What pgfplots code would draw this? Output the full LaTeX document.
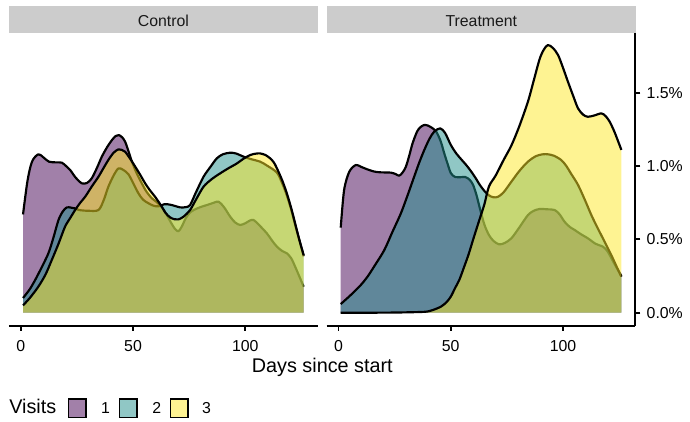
\documentclass[border=0pt]{standalone}
\usepackage{fontspec}
\setmainfont{Liberation Sans}
\usepackage{pgfplots}
\usepackage{pgfplotstable}
\pgfplotsset{compat=1.18}
\definecolor{c1}{HTML}{440154}
\definecolor{c2}{HTML}{21908C}
\definecolor{c3}{HTML}{FDE725}
\definecolor{stripgray}{HTML}{CCCCCC}

% Control
\pgfplotstableread{
x y
1 0.67
3 0.90
5 1.03
7.8 1.08
10 1.06
12.5 1.03
15.5 1.025
18.3 1.023
20.5 0.995
22 0.973
24.5 0.92
27.2 0.882
29.5 0.885
31.6 0.916
34 0.99
36.1 1.064
38.5 1.13
40.6 1.177
42.3 1.205
43.7 1.211
45.2 1.195
46.5 1.165
48 1.10
49.5 1.03
51.5 0.955
53.9 0.882
56 0.825
58.4 0.78
60.5 0.755
62.8 0.72
64.5 0.68
66.5 0.625
68.5 0.575
70.2 0.555
71.8 0.59
73.5 0.645
75.5 0.685
77 0.70
80 0.72
82.9 0.734
86 0.75
88.1 0.757
90.5 0.72
93.3 0.654
95.5 0.615
97.7 0.598
100 0.61
102 0.628
103.7 0.632
106 0.60
109.6 0.541
112 0.49
114.1 0.45
116.5 0.42
118.5 0.405
120.5 0.37
122.2 0.314
124 0.25
126 0.177
}\tCa
\pgfplotstableread{
x y
1 0.10
4 0.16
6.4 0.223
9 0.30
12.3 0.405
14.5 0.51
16.8 0.632
18.7 0.69
20.5 0.718
22.5 0.716
24.2 0.711
26 0.70
30 0.695
34.6 0.70
37 0.77
39 0.859
41.5 0.94
43.5 0.984
45.5 0.975
47.9 0.945
50 0.885
52.4 0.814
54.5 0.77
56.9 0.746
59 0.73
61.3 0.725
64 0.74
67 0.735
71 0.718
73.5 0.72
75.4 0.734
78 0.82
81.4 0.927
84.5 0.995
87.3 1.052
90 1.08
93.3 1.091
96 1.085
99.2 1.064
103 1.045
106.6 1.03
110 1.00
114.1 0.955
116.5 0.88
118.5 0.80
120.5 0.70
122.2 0.60
124 0.50
126 0.385
}\tCb
\pgfplotstableread{
x y
1 0.05
4 0.10
7.8 0.177
11 0.26
13.8 0.359
16.8 0.47
19.7 0.586
22 0.645
24.2 0.70
26.5 0.75
28.7 0.791
31.6 0.86
34.6 0.927
37 0.99
39 1.041
41.3 1.09
43.5 1.114
45 1.11
46.5 1.097
48.7 1.05
51 0.995
53.2 0.94
55.4 0.882
57.5 0.835
59.8 0.791
62.5 0.73
64.5 0.68
66.5 0.65
68.5 0.637
70.2 0.636
72.5 0.655
75.4 0.70
78 0.77
81.4 0.859
85 0.91
88.8 0.95
92.5 0.985
96.3 1.018
99.2 1.05
102.2 1.075
104.5 1.084
106.6 1.086
109 1.075
111.1 1.052
112.7 1.025
114.1 0.984
116.5 0.90
118.5 0.814
120.5 0.71
122.2 0.609
124 0.50
126 0.393
}\tCc
% Treatment
\pgfplotstableread{
x y
1 0.58
2.5 0.836
4.8 0.961
7.7 1.007
10 0.995
12.9 0.977
16 0.962
18.9 0.957
23.3 0.955
25.5 0.945
27 0.934
28.5 0.955
30 0.995
31.5 1.07
33 1.155
35 1.235
36.5 1.265
38.2 1.28
40 1.275
41.5 1.262
43.5 1.235
45.5 1.17
47.1 1.087
48.7 1.01
50.1 0.95
52 0.925
53.8 0.923
56.5 0.925
58.5 0.905
60 0.87
61.5 0.80
63 0.71
65 0.60
67 0.53
69 0.49
71.5 0.466
74 0.475
77 0.507
80.5 0.58
84.4 0.666
87 0.695
89.6 0.707
93 0.705
96.3 0.70
98.5 0.67
100.7 0.62
103 0.585
105.2 0.564
108 0.535
111.1 0.507
114.5 0.47
117.8 0.45
119.5 0.425
120.8 0.393
123 0.33
126 0.25
}\tTa
\pgfplotstableread{
x y
1 0.059
4 0.10
7 0.143
10 0.19
12.9 0.245
16.5 0.33
20.4 0.427
24 0.55
27.8 0.678
31 0.81
33.7 0.927
36 1.025
38.2 1.109
40.5 1.185
42.6 1.234
45.3 1.257
47.5 1.225
50 1.145
52.5 1.085
55 1.04
57 1.005
59 0.965
61 0.92
63 0.87
65 0.83
67 0.80
69 0.787
71 0.79
73.5 0.82
77 0.893
80.5 0.965
84.4 1.03
88 1.068
91 1.08
93.3 1.08
96 1.07
99.2 1.041
101.5 1.0
103.5 0.95
106.7 0.871
110 0.76
112.5 0.67
115 0.59
118 0.50
121.5 0.393
124 0.31
126 0.245
}\tTb
\pgfplotstableread{
x y
1 0
15 0
25 0.001
32 0.003
37 0.005
39.6 0.008
42 0.018
45.6 0.041
48 0.07
50 0.109
52 0.17
53.8 0.223
56 0.314
58 0.40
60 0.50
62.9 0.64
65 0.74
67 0.86
70 0.935
73.5 1.04
77 1.14
80.5 1.27
84.4 1.44
87 1.585
89.6 1.73
91.5 1.795
93.3 1.825
95.5 1.805
97.8 1.757
100 1.67
102.2 1.575
104.5 1.48
106.7 1.393
109 1.35
111.1 1.336
114 1.345
117.1 1.359
119 1.34
120.8 1.302
123 1.23
126 1.11
}\tTc

\pgfplotsset{
  panel/.style={
    scale only axis, width=171.5pt, height=162.6pt,
    xmin=-5.25, xmax=132.25, ymin=-0.0907, ymax=1.905,
    axis x line*=bottom,
    axis line style={-, line width=1.07pt, black},
    major tick style={line width=1.07pt, black},
    major tick length=2.75pt,
    tick align=outside,
    xtick={0,50,100}, xticklabels={0,50,100},
    ticklabel style={font=\fontsize{8.8}{10}\selectfont, text=black},
    xticklabel shift=2pt,
    clip=true,
  },
  dfill/.style={draw=none, fill=#1, fill opacity=0.5, smooth, forget plot},
  dline/.style={black, line width=1.2pt, line join=round, smooth, forget plot},
}

\begin{document}
\begin{tikzpicture}
\path[use as bounding box] (0pt,0pt) rectangle (383.33pt,234.44pt);

\begin{axis}[panel, at={(5pt,53.33pt)}, anchor=south west,
  axis y line=none, ytick=\empty,
  legend columns=-1,
  legend style={at={(0.001,-0.2812)}, anchor=west, draw=none, fill=none,
    inner sep=0pt, outer sep=0pt, /tikz/column sep=0pt,
    nodes={inner sep=0pt, outer sep=0pt, anchor=base west, font=\fontsize{8.8}{10}\selectfont, text=black}},
]
\addplot[dfill=c1] table {\tCa} \closedcycle;
\addplot[dline] table {\tCa};
\addplot[dfill=c2] table {\tCb} \closedcycle;
\addplot[dline] table {\tCb};
\addplot[dfill=c3] table {\tCc} \closedcycle;
\addplot[dline] table {\tCc};

\addlegendimage{legend image code/.code={\path[draw=none,fill=none] (0pt,0pt);}}
\addlegendentry{\fontsize{11}{13}\selectfont Visits}
\addlegendimage{legend image code/.code={\path[draw=none,fill=none] (0pt,0pt) -- (24.96pt,0pt); \draw[black, line width=0.83pt, fill=c1!50!white] (6.915pt,-1.99pt) rectangle (16.645pt,8.29pt);}}
\addlegendentry{1}
\addlegendimage{legend image code/.code={\path[draw=none,fill=none] (0pt,0pt) -- (23.51pt,0pt); \draw[black, line width=0.83pt, fill=c2!50!white] (5.165pt,-1.99pt) rectangle (14.895pt,8.29pt);}}
\addlegendentry{2}
\addlegendimage{legend image code/.code={\path[draw=none,fill=none] (0pt,0pt) -- (22.76pt,0pt); \draw[black, line width=0.83pt, fill=c3!50!white] (5.115pt,-1.99pt) rectangle (14.845pt,8.29pt);}}
\addlegendentry{3}
\end{axis}

\begin{axis}[panel, at={(181.5pt,53.33pt)}, anchor=south west,
  axis y line*=right,
  ytick={0,0.5,1,1.5}, yticklabels={0.0\%,0.5\%,1.0\%,1.5\%},
]
\addplot[dfill=c1] table {\tTa} \closedcycle;
\addplot[dline] table {\tTa};
\addplot[dfill=c2] table {\tTb} \closedcycle;
\addplot[dline] table {\tTb};
\addplot[dfill=c3] table {\tTc} \closedcycle;
\addplot[dline] table {\tTc};
\end{axis}

% facet strips
\fill[stripgray] (5pt,215.9pt) rectangle (176.5pt,231.1pt);
\fill[stripgray] (181.5pt,215.9pt) rectangle (353.3pt,231.1pt);
\node[anchor=base, inner sep=0pt, font=\fontsize{8.8}{10}\selectfont, text=black!90] at (90.75pt,219.6pt) {Control};
\node[anchor=base, inner sep=0pt, font=\fontsize{8.8}{10}\selectfont, text=black!90] at (267.4pt,219.6pt) {Treatment};

% x axis title
\node[anchor=base, inner sep=0pt, font=\fontsize{11}{13}\selectfont, text=black] at (179.05pt,27.4pt) {Days since start};
\end{tikzpicture}
\end{document}
